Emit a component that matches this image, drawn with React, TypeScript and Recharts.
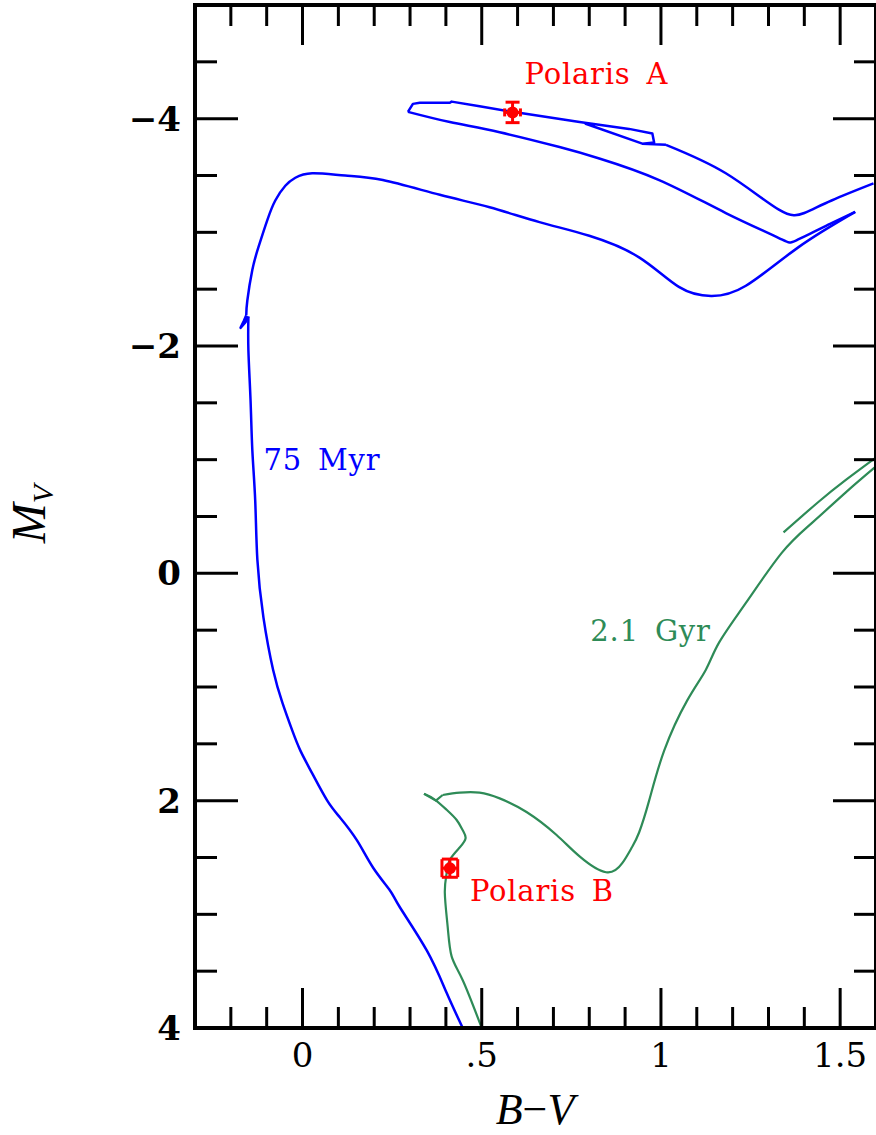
import React from "react";
import {
  ComposedChart,
  Line,
  Scatter,
  XAxis,
  YAxis,
  ErrorBar,
  ReferenceDot,
} from "recharts";

// 75 Myr isochrone (B-V, M_V), in path order
const myr75BV = [
  0.447, 0.402, 0.347, 0.272, 0.244, 0.197, 0.152, 0.105, 0.069, 0.027, -0.006,
  -0.029, -0.056, -0.082, -0.109, -0.126, -0.132, -0.14, -0.145, -0.151, -0.151,
  -0.159, -0.173, -0.164, -0.157, -0.154, -0.14, -0.123, -0.098, -0.076, -0.048,
  -0.02, 0.027, 0.119, 0.224, 0.383, 0.522, 0.661, 0.8, 0.939, 1.05, 1.14,
  1.237, 1.384, 1.542, 1.476, 1.378, 1.329, 1.181, 0.995, 0.828, 0.717, 0.55,
  0.411, 0.294, 0.308, 0.327, 0.411, 0.416, 0.494, 0.586, 0.773, 0.911, 0.976,
  0.981, 0.948, 0.79, 0.948, 1.014, 1.181, 1.329, 1.4, 1.476, 1.593,
];
const myr75MV = [
  4.0, 3.69, 3.32, 2.94, 2.79, 2.59, 2.35, 2.15, 2.0, 1.76, 1.56, 1.38, 1.14,
  0.85, 0.39, -0.12, -0.64, -1.08, -1.52, -1.96, -2.26, -2.21, -2.16, -2.22,
  -2.27, -2.4, -2.67, -2.87, -3.11, -3.28, -3.41, -3.48, -3.52, -3.5, -3.46,
  -3.33, -3.22, -3.09, -2.97, -2.78, -2.52, -2.44, -2.53, -2.87, -3.18, -3.08,
  -2.93, -2.95, -3.17, -3.46, -3.65, -3.75, -3.88, -3.97, -4.06, -4.13, -4.14,
  -4.14, -4.15, -4.11, -4.06, -3.97, -3.91, -3.87, -3.79, -3.78, -3.955, -3.78,
  -3.77, -3.52, -3.2, -3.17, -3.28, -3.43,
];

// 2.1 Gyr isochrone: main sequence, turnoff, subgiant and red giant branch
const gyr21BV = [
  0.5, 0.447, 0.416, 0.405, 0.397, 0.402, 0.411, 0.439, 0.455, 0.447, 0.43,
  0.402, 0.369, 0.339, 0.372, 0.391, 0.439, 0.494, 0.55, 0.625, 0.708, 0.773,
  0.847, 0.892, 0.919, 0.939, 0.967, 1.009, 1.073, 1.125, 1.162, 1.237, 1.337,
  1.42, 1.515, 1.596,
];
const gyr21MV = [
  4.0, 3.58, 3.37, 3.11, 2.81, 2.64, 2.52, 2.41, 2.33, 2.26, 2.17, 2.08, 1.99,
  1.94, 2.0, 1.95, 1.93, 1.93, 1.98, 2.1, 2.3, 2.49, 2.63, 2.55, 2.41, 2.28,
  2.0, 1.56, 1.12, 0.85, 0.61, 0.26, -0.18, -0.44, -0.71, -0.93,
];
// 2.1 Gyr asymptotic giant branch piece
const gyr21AgbBV = [1.342, 1.44, 1.515, 1.596];
const gyr21AgbMV = [-0.36, -0.63, -0.82, -1.01];

const polarisA = [{ bv: 0.586, mv: -4.055, bvErr: 0.022, mvErr: 0.09 }];
const polarisB = [{ bv: 0.411, mv: 2.594, bvErr: 0.022, mvErr: 0.08 }];

const noteText = ["Polaris A", "75 Myr", "2.1 Gyr", "Polaris B"];
const noteBV = [0.82, 0.054, 0.971, 0.668];
const noteMV = [-4.4, -1.01, 0.5, 2.79];

const xTicks = [
  -0.2, -0.1, 0, 0.1, 0.2, 0.3, 0.4, 0.5, 0.6, 0.7, 0.8, 0.9, 1, 1.1, 1.2, 1.3,
  1.4, 1.5,
];
const xMajor = [0, 0.5, 1, 1.5];
const xTickLabels = ["0", ".5", "1", "1.5"];
const yTicks = [
  -4.5, -4, -3.5, -3, -2.5, -2, -1.5, -1, -0.5, 0, 0.5, 1, 1.5, 2, 2.5, 3, 3.5, 4,
];
const yMajor = [-4, -2, 0, 2, 4];
const yTickLabels = ["\u22124", "\u22122", "0", "2", "4"];

const zip = (bv: number[], mv: number[]) => bv.map((b, i) => ({ bv: b, mv: mv[i] }));
const myr75 = zip(myr75BV, myr75MV);
const gyr21 = zip(gyr21BV, gyr21MV);
const gyr21Agb = zip(gyr21AgbBV, gyr21AgbMV);

// smooth stretches drawn as splines, hooks and loops kept straight
type Part = [number, number, "natural" | "linear"];
const myr75Parts: Part[] = [
  [0, 20, "natural"],
  [20, 24, "linear"],
  [24, 44, "natural"],
  [44, 54, "natural"],
  [54, 68, "linear"],
  [68, 73, "natural"],
];
const gyr21Parts: Part[] = [
  [0, 13, "natural"],
  [13, 15, "linear"],
  [15, 35, "natural"],
];

const BLUE = "#0000ff";
const GREEN = "#2e8b57";
const RED = "#ff0000";
const TICK_FONT = "DejaVu Serif";
const NOTE_FONT = "DejaVu Serif";
const frame = { stroke: "#000", strokeWidth: 4, strokeLinecap: "square" as const };

const BottomTick = (props: any) => {
  const { x, y, payload } = props;
  const i = xMajor.indexOf(payload.value);
  return (
    <g>
      <line x1={x} x2={x} y1={y} y2={y - (i >= 0 ? 40 : 21)} stroke="#000" strokeWidth={3} />
      {i >= 0 && (
        <text x={x} y={y + 39} textAnchor="middle" fontFamily={TICK_FONT} fontSize={34} fill="#000">
          {xTickLabels[i]}
        </text>
      )}
    </g>
  );
};

const TopTick = (props: any) => {
  const { x, y, payload } = props;
  const major = xMajor.includes(payload.value);
  return <line x1={x} x2={x} y1={y} y2={y + (major ? 40 : 21)} stroke="#000" strokeWidth={3} />;
};

const LeftTick = (props: any) => {
  const { x, y, payload } = props;
  const i = yMajor.indexOf(payload.value);
  return (
    <g>
      <line x1={x} x2={x + (i >= 0 ? 43 : 22)} y1={y} y2={y} stroke="#000" strokeWidth={3} />
      {i >= 0 && (
        <text x={x - 14} y={y + 12} textAnchor="end" fontFamily={TICK_FONT} fontWeight="bold" fontSize={34} fill="#000">
          {yTickLabels[i]}
        </text>
      )}
    </g>
  );
};

const RightTick = (props: any) => {
  const { x, y, payload } = props;
  const major = yMajor.includes(payload.value);
  return <line x1={x} x2={x - (major ? 43 : 22)} y1={y} y2={y} stroke="#000" strokeWidth={3} />;
};

const note = (text: string, color: string) => (props: any) => {
  const { viewBox } = props;
  return (
    <text
      x={viewBox.x}
      y={viewBox.y + 11}
      textAnchor="middle"
      fill={color}
      fontFamily={NOTE_FONT}
      fontSize={29}
      letterSpacing={0.8}
      wordSpacing={6}
    >
      {text}
    </text>
  );
};

const dotShape = (props: any) => <circle cx={props.cx} cy={props.cy} r={6} fill={RED} />;

const XTitle = () => (
  <text x={535} y={1124} textAnchor="middle" fontFamily="Liberation Serif" fontSize={44} fill="#000">
    <tspan fontStyle="italic">B</tspan>
    <tspan>{"\u2212"}</tspan>
    <tspan fontStyle="italic">V</tspan>
  </text>
);

const YTitle = () => (
  <text transform="translate(45,514) rotate(-90)" textAnchor="middle" fontFamily="Liberation Serif" fontStyle="italic" fill="#000">
    <tspan fontSize={48}>M</tspan>
    <tspan fontSize={30} dy={8}>V</tspan>
  </text>
);

const renderParts = (pts: { bv: number; mv: number }[], parts: Part[], color: string, width: number, name: string) =>
  parts.map(([from, to, curve]) => (
    <Line
      key={`${name}-${from}`}
      xAxisId="b"
      yAxisId="l"
      data={pts.slice(from, to + 1)}
      dataKey="mv"
      type={curve}
      stroke={color}
      strokeWidth={width}
      strokeLinejoin="round"
      dot={false}
      activeDot={false}
      isAnimationActive={false}
    />
  ));

export default function App() {
  const noteColors = [RED, BLUE, GREEN, RED];
  return (
    <div style={{ position: "absolute", left: 0, top: 0, width: 876, height: 1135, overflow: "hidden", background: "#fff" }}>
      <ComposedChart width={877} height={1135} margin={{ top: 0, right: 0, bottom: 0, left: 0 }}>
        <XAxis
          xAxisId="b"
          type="number"
          dataKey="bv"
          domain={[-0.3, 1.6]}
          allowDataOverflow
          ticks={xTicks}
          interval={0}
          tickSize={0}
          tickMargin={0}
          tickLine={false}
          tick={<BottomTick />}
          axisLine={frame}
          height={107}
          label={<XTitle />}
        />
        <XAxis
          xAxisId="t"
          orientation="top"
          type="number"
          dataKey="bv"
          domain={[-0.3, 1.6]}
          allowDataOverflow
          ticks={xTicks}
          interval={0}
          tickSize={0}
          tickMargin={0}
          tickLine={false}
          tick={<TopTick />}
          axisLine={frame}
          height={5}
        />
        <YAxis
          yAxisId="l"
          type="number"
          dataKey="mv"
          domain={[-5, 4]}
          reversed
          allowDataOverflow
          ticks={yTicks}
          interval={0}
          tickSize={0}
          tickMargin={0}
          tickLine={false}
          tick={<LeftTick />}
          axisLine={frame}
          width={195}
          label={<YTitle />}
        />
        <YAxis
          yAxisId="r"
          orientation="right"
          type="number"
          dataKey="mv"
          domain={[-5, 4]}
          reversed
          allowDataOverflow
          ticks={yTicks}
          interval={0}
          tickSize={0}
          tickMargin={0}
          tickLine={false}
          tick={<RightTick />}
          axisLine={frame}
          width={1}
        />
        {renderParts(myr75, myr75Parts, BLUE, 2.5, "myr75")}
        {renderParts(gyr21, gyr21Parts, GREEN, 2.2, "gyr21")}
        <Line
          xAxisId="t"
          yAxisId="r"
          data={gyr21Agb}
          dataKey="mv"
          type="natural"
          stroke={GREEN}
          strokeWidth={2.2}
          dot={false}
          activeDot={false}
          isAnimationActive={false}
        />
        <Scatter xAxisId="b" yAxisId="l" data={polarisA} shape={dotShape} isAnimationActive={false}>
          <ErrorBar dataKey="mvErr" direction="y" width={7} stroke={RED} strokeWidth={3} isAnimationActive={false} />
          <ErrorBar dataKey="bvErr" direction="x" width={4} stroke={RED} strokeWidth={3} isAnimationActive={false} />
        </Scatter>
        <Scatter xAxisId="b" yAxisId="l" data={polarisB} shape={dotShape} isAnimationActive={false}>
          <ErrorBar dataKey="mvErr" direction="y" width={8} stroke={RED} strokeWidth={3} isAnimationActive={false} />
          <ErrorBar dataKey="bvErr" direction="x" width={9} stroke={RED} strokeWidth={3} isAnimationActive={false} />
        </Scatter>
        {noteText.map((t, i) => (
          <ReferenceDot
            key={t}
            xAxisId="b"
            yAxisId="l"
            x={noteBV[i]}
            y={noteMV[i]}
            r={0}
            fill="none"
            stroke="none"
            label={note(t, noteColors[i])}
          />
        ))}
      </ComposedChart>
    </div>
  );
}
